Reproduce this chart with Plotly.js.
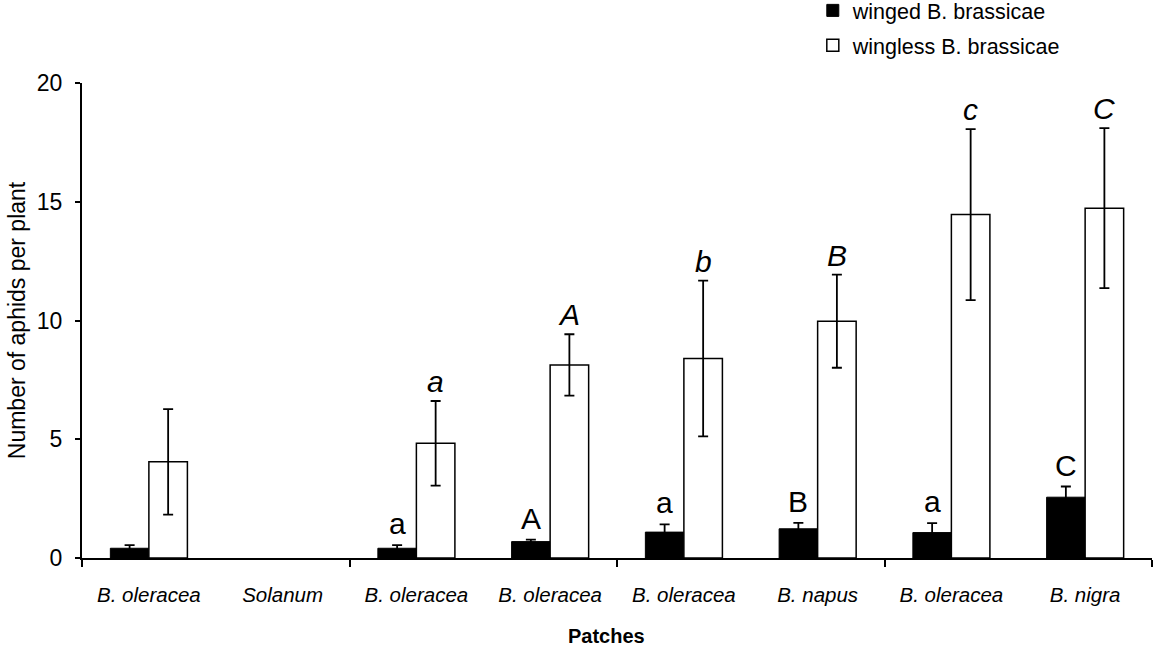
<!DOCTYPE html>
<html>
<head>
<meta charset="utf-8">
<script src="https://cdn.plot.ly/plotly-3.0.1.min.js"></script>
<style>html,body{margin:0;padding:0;background:#fff;}#chart{width:1155px;height:653px;}</style>
</head>
<body>
<div id="chart"></div>
<script>
// ---- data ----
var patches = ["B. oleracea", "Solanum", "B. oleracea", "B. oleracea", "B. oleracea", "B. napus", "B. oleracea", "B. nigra"];
var wingedMean   = [0.41, null, 0.41, 0.69, 1.09, 1.23, 1.07, 2.56];
var wingedErr    = [0.13, null, 0.13, 0.08, 0.33, 0.25, 0.40, 0.45];
var winglessMean = [4.05, null, 4.83, 8.13, 8.40, 9.97, 14.46, 14.73];
var winglessErr  = [2.22, null, 1.78, 1.29, 3.28, 1.96, 3.60, 3.37];
var wingedLetters   = ["", "", "a", "A", "a", "B", "a", "C"];
var winglessLetters = ["", "", "a", "A", "b", "B", "c", "C"];
var groupBoundaries = [-0.5, 1.5, 3.5, 5.5, 7.5];

var FONT = "Liberation Sans, Arial, Helvetica, sans-serif";
var idx = patches.map(function (_, i) { return i; });
var bargap = 0.424;
var off = (1 - bargap) / 4;

var traces = [
  {
    type: "bar", name: "winged B. brassicae", x: idx, y: wingedMean,
    legendgroup: "g1",
    marker: { color: "#000000", line: { color: "#000000", width: 1 } },
    error_y: { type: "data", array: wingedErr, visible: true, color: "#000000", thickness: 1.8, width: 5 },
    hoverinfo: "y"
  },
  {
    type: "bar", name: "wingless B. brassicae", x: idx, y: winglessMean,
    legendgroup: "g2",
    marker: { color: "#ffffff", line: { color: "#000000", width: 1.5 } },
    error_y: { type: "data", array: winglessErr, visible: true, color: "#000000", thickness: 1.8, width: 5 },
    hoverinfo: "y"
  }
];

var annotations = [];
idx.forEach(function (i) {
  if (wingedLetters[i]) {
    annotations.push({
      x: i - off, y: wingedMean[i] + wingedErr[i], xref: "x", yref: "y",
      text: wingedLetters[i], showarrow: false, yanchor: "bottom", yshift: 3,
      font: { family: FONT, size: 30, color: "#000" }
    });
  }
  if (winglessLetters[i]) {
    annotations.push({
      x: i + off, y: winglessMean[i] + winglessErr[i], xref: "x", yref: "y",
      text: "<i>" + winglessLetters[i] + "</i>", showarrow: false, yanchor: "bottom", yshift: 1,
      font: { family: FONT, size: 30, color: "#000" }
    });
  }
});

// x-axis title placed as text under the tick labels
annotations.push({
  text: "<b>Patches</b>", xref: "paper", yref: "paper", x: 0.49, y: -0.164,
  xanchor: "center", yanchor: "middle", showarrow: false,
  font: { family: FONT, size: 20, color: "#000" }
});

var layout = {
  width: 1155, height: 653,
  paper_bgcolor: "#ffffff", plot_bgcolor: "#ffffff",
  margin: { l: 82, r: 3, t: 83, b: 95, pad: 0, autoexpand: false },
  font: { family: FONT, color: "#000000", size: 20 },
  barmode: "group", bargap: bargap, bargroupgap: 0,
  showlegend: true,
  legend: {
    x: 0.683, xanchor: "left", y: 1.196, yanchor: "top",
    font: { family: FONT, size: 21.5, color: "#000" },
    bgcolor: "rgba(0,0,0,0)", tracegroupgap: 4, traceorder: "grouped"
  },
  xaxis: {
    type: "linear", range: [-0.5, 7.5],
    tickmode: "array", tickvals: idx, ticktext: patches.map(function (p) { return "<i>" + p + "</i>"; }),
    ticks: "", showgrid: false, zeroline: false,
    showline: true, linecolor: "#000", linewidth: 2,
    tickfont: { family: FONT, size: 20.5, color: "#000" },
    ticklabelstandoff: 17,
    minor: { tickmode: "array", tickvals: groupBoundaries, ticks: "outside", ticklen: 7, tickwidth: 2, tickcolor: "#000", showgrid: false },
    fixedrange: true
  },
  yaxis: {
    range: [0, 20], dtick: 5, tick0: 0,
    ticks: "outside", ticklen: 5, tickwidth: 2, tickcolor: "#000",
    showgrid: false, zeroline: false,
    showline: true, linecolor: "#000", linewidth: 2,
    tickfont: { family: FONT, size: 23, color: "#000" },
    ticklabelstandoff: 8,
    title: { text: "Number of aphids per plant", font: { family: FONT, size: 23, color: "#000" }, standoff: 5 },
    fixedrange: true
  },
  annotations: annotations
};

Plotly.newPlot("chart", traces, layout, { displayModeBar: false, staticPlot: true });
</script>
</body>
</html>
